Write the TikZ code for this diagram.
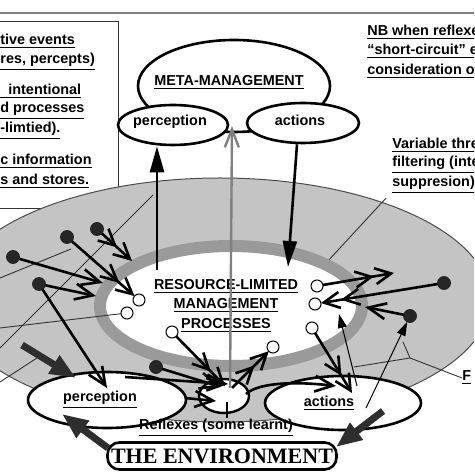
\documentclass[tikz,border=0pt]{standalone}
\usepackage{fontspec}
\setmainfont{Liberation Sans}
\newfontfamily\envfont{Liberation Serif}
\usetikzlibrary{arrows.meta,shapes.geometric}

\definecolor{ring_gray}{HTML}{9A9A9A}
\definecolor{field_gray}{HTML}{C4C4C4}
\definecolor{block_gray}{HTML}{2E2E2E}
\newcommand{\uln}[1]{\underline{#1}}

\tikzset{black_dot/.style={inner sep=0pt, outer sep=0pt, circle, minimum size=6.5pt, fill=black!85, draw=black!85}}
\tikzset{open_dot/.style={inner sep=0pt, outer sep=0pt, circle, minimum size=6pt, fill=white, draw=black, line width=0.5pt}}
\tikzset{oval/.style={inner sep=0pt, ellipse, fill=white, draw=black, line width=1.3pt}}
\tikzset{key_text/.style={inner sep=0pt, anchor=west}}
\tikzset{barb_arrow/.style={-{Straight Barb[length=9pt,width=8pt]}, line width=1.3pt}}
\tikzset{double_barb/.style={-{Straight Barb[length=8pt,width=8pt]Straight Barb[length=8pt,width=8pt]}, line width=1.3pt}}
\tikzset{thin_arrow/.style={-{Triangle[length=7pt,width=4.5pt]}, line width=0.5pt}}
\tikzset{meta_arrow/.style={-{Triangle[length=13pt,width=7pt]}, line width=1.3pt}}
\tikzset{gray_arrow/.style={-{Straight Barb[length=9pt,width=7pt]}, draw=gray, line width=1.2pt}}
\tikzset{block_arrow/.style={-{Triangle[length=13pt,width=10pt]}, draw=block_gray, fill=block_gray, line width=3.5pt}}
\tikzset{leader/.style={draw=black!80, line width=0.45pt}}

\begin{document}
\begin{tikzpicture}[x=0.5pt, y=-0.5pt, font=\fontsize{7.2}{9.75}\selectfont\bfseries]
  \useasboundingbox (0,0) rectangle (474,474);
  \clip (0,0) rectangle (474,474);

  % frame and key box
  \draw[gray, line width=0.6pt] (0,13) -- (474,13);
  \draw[black!80, line width=0.5pt] (0,22) -- (118,22) -- (118,209) -- (0,209);
  \node[key_text] (k1) at (0,41) {\uln{tive events}};
  \node[key_text] (k2) at (0,62) {\uln{res, percepts)}};
  \node[key_text] (k3) at (0,91) {\uln{\hspace{4pt}intentional}};
  \node[key_text] (k4) at (0,111) {\uln{d processes}};
  \node[key_text] (k5) at (0,131) {\uln{-limtied).}};
  \node[key_text] (k6) at (0,161) {\uln{c information}};
  \node[key_text] (k7) at (0,181) {\uln{s and stores.}};
  \node[key_text] (nb1) at (367,32) {\uln{NB when reflexe}};
  \node[key_text] (nb2) at (367,51) {\uln{``short-circuit'' e}};
  \node[key_text] (nb3) at (367,71) {\uln{consideration of}};
  \node[key_text] (vt1) at (392,145) {\uln{Variable thre}};
  \node[key_text] (vt2) at (392,165) {\uln{filtering (inte}};
  \node[key_text] (vt3) at (392,185) {\uln{suppresion)}};
  \node[key_text] (fl) at (462,378) {\uln{F}};

  % outer field
  \draw[black!70, fill=field_gray, line width=0.5pt] (220,300) ellipse [x radius=135pt, y radius=61pt];
  \draw[leader] (153,195) -- (0,348);
  \draw[leader] (71,249) -- (0,278);
  \draw[leader] (37,358) -- (0,382);
  \draw[leader] (vt3.south west) ++(-6,4) -- (327,262);
  \draw[leader] (fl.west) -- (410,358) -- (354,367);
  \draw[leader] (410,358) -- (403,342);

  % resource-limited ring
  \draw[ring_gray, fill=white, line width=6pt] (231,306) ellipse [x radius=65.5pt, y radius=30pt];
  \node[align=center, inner sep=0pt] (rlm) at (226,306) {\uln{RESOURCE-LIMITED}\\\uln{MANAGEMENT}\\\uln{PROCESSES}};

  % meta-management
  \node[oval, minimum width=96pt, minimum height=46pt,
        label={[xshift=-2.5pt, yshift=1.5pt]center:\uln{META-MANAGEMENT}}] (mm) at (234,86) {};
  \node[oval, minimum width=55pt, minimum height=20pt,
        label={[xshift=-1.5pt, yshift=1.5pt]center:perception}] (mp) at (173,125) {};
  \node[oval, minimum width=56pt, minimum height=20pt,
        label={[xshift=-1.5pt, yshift=1.5pt]center:actions}] (ma) at (303,123) {};

  % lower layer
  \node[oval, minimum width=79pt, minimum height=28pt,
        label={[xshift=-3.5pt]center:\uln{perception}}] (pb) at (107,400) {};
  \node[oval, minimum width=78pt, minimum height=27pt,
        label={[xshift=-7pt]center:\uln{actions}}] (ab) at (343,403) {};
  \node[oval, line width=1.2pt, minimum width=25pt, minimum height=17pt] (rf) at (224,396) {};
  \node[inner sep=0pt] (rf_lbl) at (216,428) {\uln{Reflexes (some learnt)}};
  \node[draw=black, line width=1.3pt, rounded corners=6pt, fill=white, minimum width=114.5pt,
        minimum height=13.5pt, inner sep=0pt,
        font=\envfont\fontsize{11}{11}\selectfont\bfseries] (env) at (222,456) {THE ENVIRONMENT};

  % dots and circles
  \foreach \n/\x/\y in {d1/97/229,d2/67/237,d3/13/257,d4/39/284,d5/444/283,d6/410/316,d7/156/367}
    \node[black_dot] (\n) at (\x,\y) {};
  \foreach \n/\x/\y in {c1/139/300,c2/317/286,c3/315/304,c4/312/328,c5/172/332,c6/273/347,c7/127/313}
    \node[open_dot] (\n) at (\x,\y) {};
  \foreach \n/\x/\y in {t1/132/261,t3/103/283,t4/96/296,t5/394/273,t6/365/307,t7/352/393,
      p1/107/388,p2/76/378,p3/62/414,p4/125/377,p5/185/398,e1/22/345,e2/108/448,e3/383/411,e4/336/447,
      r1/225/386,r2/221/387,r3/228/384,r4/216/401,r5/232/388,r6/246/394,r7/336/386,
      g1/230/388,g2/232/126,m1/157/270,m2/288/267,a1/357/386,a2/339/314,a3/366/408,
      rt1/227/402,rt2/227/418}
    \coordinate (\n) at (\x,\y);

  \draw[leader] (c7) -- (0,328);
  \draw[line width=0.8pt] (rt1) -- (rt2);

  % arrows into and out of the management processes
  \draw[double_barb] (d1) -- (t1);
  \draw[double_barb] (d2) -- (c1);
  \draw[barb_arrow] (d3) -- (t3);
  \draw[barb_arrow] (d4) -- (t4);
  \draw[barb_arrow] (d4) -- (p1);
  \draw[double_barb] (c2) -- (t5);
  \draw[double_barb] (d5) -- (c3);
  \draw[barb_arrow] (d6) -- (t6);
  \draw[double_barb] (c4) -- (t7);
  \draw[double_barb] (c5) -- (r1);
  \draw[barb_arrow] (d7) -- (r2);
  \draw[barb_arrow] (p4) -- (r3);
  \draw[barb_arrow] (p5) -- (r4);
  \draw[double_barb] (r5) -- (c6);
  \draw[barb_arrow] (r6) .. controls (258,383) and (292,381) .. (r7);
  \draw[thin_arrow] (a1) -- (a2);
  \draw[thin_arrow] (a3) -- (d6);

  % meta-management arrows
  \draw[meta_arrow] (m1) -- (m1 |- mp.south);
  \draw[meta_arrow] ([xshift=-3pt]ma.south) -- (m2);
  \draw[gray_arrow] (g1) -- (g2);

  % environment arrows
  \draw[block_arrow] (e1) -- (p2);
  \draw[block_arrow] (e2) -- (p3);
  \draw[block_arrow] (e3) -- (e4);
\end{tikzpicture}
\end{document}
